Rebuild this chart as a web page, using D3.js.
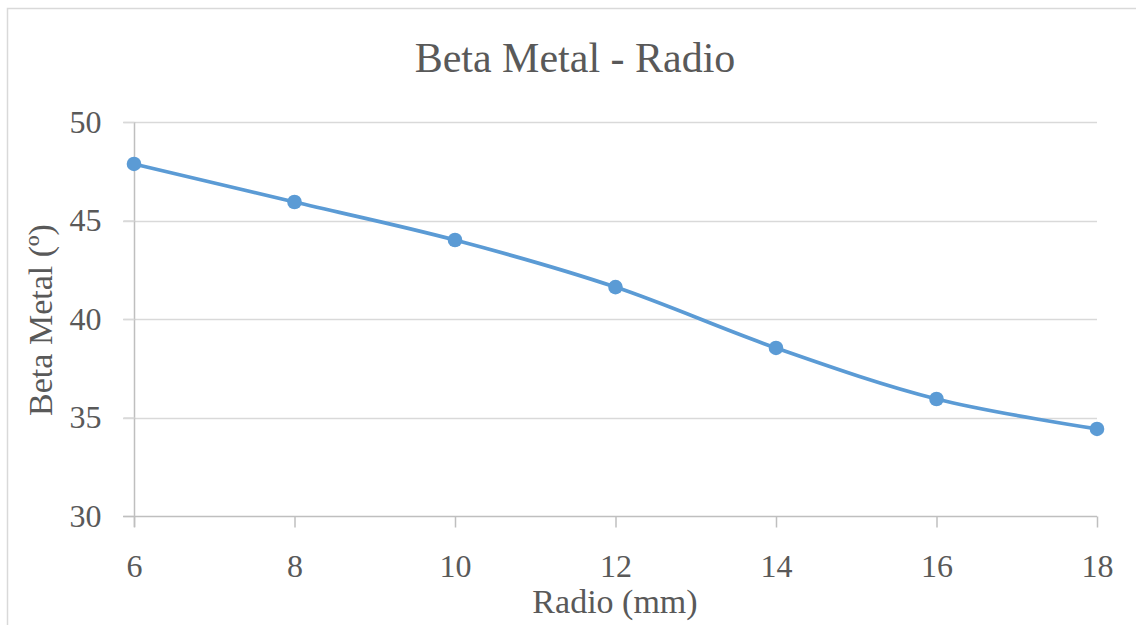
<!DOCTYPE html>
<html>
<head>
<meta charset="utf-8">
<script src="https://cdn.jsdelivr.net/npm/d3@7"></script>
<style>
  html, body { margin: 0; padding: 0; background: #fff; }
  svg { display: block; }
</style>
</head>
<body>
<svg id="chart" width="1136" height="625"></svg>
<script>
// Radius (mm) against metal beta angle (degrees)
const radio = [6, 8, 10, 12, 14, 16, 18];
const beta = [47.87, 45.94, 44.01, 41.62, 38.53, 35.94, 34.42];
const xTicks = [6, 8, 10, 12, 14, 16, 18];
const yTicks = [30, 35, 40, 45, 50];

const titleText = "Beta Metal - Radio";
const xTitle = "Radio (mm)";
const yTitle = "Beta Metal (º)";

const FONT = '"Liberation Serif"';
const INK = "#595959";

const svg = d3.select("#chart");
const m = { left: 134, right: 1097, top: 122, bottom: 516 };

// Chart frame (runs past the right and bottom edges of the view)
svg.append("rect")
  .attr("x", 7.5).attr("y", 8.5)
  .attr("width", 1160).attr("height", 640)
  .attr("fill", "#fff").attr("stroke", "#D9D9D9").attr("stroke-width", 1.5);

const x = d3.scaleLinear().domain([6, 18]).range([m.left, m.right]);
const y = d3.scaleLinear().domain([30, 50]).range([m.bottom, m.top]);

// Horizontal gridlines
svg.append("g")
  .selectAll("line")
  .data(yTicks.filter(t => t !== 30))
  .join("line")
  .attr("x1", m.left - 11).attr("x2", m.right)
  .attr("y1", d => Math.round(y(d)) + 0.5).attr("y2", d => Math.round(y(d)) + 0.5)
  .attr("stroke", "#D9D9D9").attr("stroke-width", 1.5);

// Y axis
const yAxis = svg.append("g")
  .attr("transform", `translate(${m.left + 0.5},0)`)
  .call(d3.axisLeft(y).tickValues(yTicks).tickSize(11).tickPadding(22).tickFormat(d3.format("d")));
yAxis.attr("font-family", null).attr("font-size", null);
yAxis.select(".domain").attr("stroke", "#BFBFBF").attr("stroke-width", 1.5)
  .attr("d", `M0,${m.top}V${m.bottom + 11}`);
yAxis.selectAll(".tick line").attr("stroke", "#D9D9D9").attr("stroke-width", 1.5);
yAxis.selectAll(".tick text")
  .style("font-family", FONT).style("font-size", "32px").attr("fill", INK);

// X axis
const xAxis = svg.append("g")
  .attr("transform", `translate(0,${m.bottom + 0.5})`)
  .call(d3.axisBottom(x).tickValues(xTicks).tickSize(11).tickPadding(27).tickFormat(d3.format("d")));
xAxis.attr("font-family", null).attr("font-size", null);
xAxis.select(".domain").attr("stroke", "#BFBFBF").attr("stroke-width", 1.5)
  .attr("d", `M${m.left - 11},0H${m.right}`);
xAxis.selectAll(".tick line").attr("stroke", "#BFBFBF").attr("stroke-width", 1.5);
xAxis.selectAll(".tick text")
  .style("font-family", FONT).style("font-size", "32px").attr("fill", INK);

// Smoothed series line
const line = d3.line()
  .x((d, i) => x(radio[i]))
  .y(d => y(d))
  .curve(d3.curveCatmullRom.alpha(0));
svg.append("path")
  .datum(beta)
  .attr("d", line)
  .attr("fill", "none")
  .attr("stroke", "#5B9BD5")
  .attr("stroke-width", 3.75)
  .attr("stroke-linecap", "round");

// Markers
svg.append("g")
  .selectAll("circle")
  .data(beta)
  .join("circle")
  .attr("cx", (d, i) => x(radio[i]))
  .attr("cy", d => y(d))
  .attr("r", 7.3)
  .attr("fill", "#5B9BD5");

// Titles
svg.append("text")
  .attr("x", 575).attr("y", 72)
  .attr("text-anchor", "middle")
  .attr("fill", INK)
  .style("font-family", FONT).style("font-size", "42px")
  .text(titleText);

svg.append("text")
  .attr("x", 615).attr("y", 613)
  .attr("text-anchor", "middle")
  .attr("fill", INK)
  .style("font-family", FONT).style("font-size", "34px")
  .text(xTitle);

svg.append("text")
  .attr("transform", `translate(52,320) rotate(-90)`)
  .attr("text-anchor", "middle")
  .attr("fill", INK)
  .style("font-family", FONT).style("font-size", "34px")
  .text(yTitle);
</script>
</body>
</html>
